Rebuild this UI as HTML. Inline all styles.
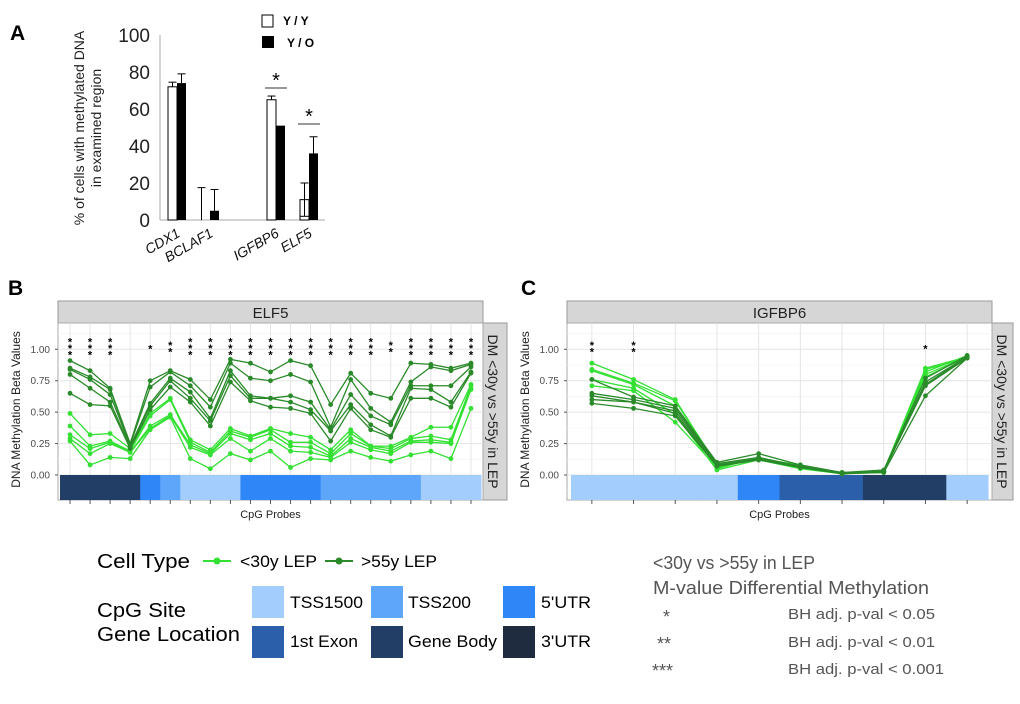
<!DOCTYPE html>
<html><head><meta charset="utf-8"><style>
html,body{margin:0;padding:0;background:#fff}
svg{display:block;font-family:"Liberation Sans",sans-serif}
</style></head><body>
<svg id="fig" width="1020" height="704" viewBox="0 0 1020 704" xmlns="http://www.w3.org/2000/svg">
<g id="panelA"></g>
<g id="panelB"></g>
<g id="panelC"></g>
<g id="legend">
  <text x="97" y="568" font-size="20" textLength="93" lengthAdjust="spacingAndGlyphs">Cell Type</text>
  <line x1="203" y1="561" x2="231" y2="561" stroke="#33e033" stroke-width="2"/>
  <circle cx="217" cy="561" r="3.5" fill="#33e033"/>
  <text x="240" y="567" font-size="17" textLength="77" lengthAdjust="spacingAndGlyphs">&lt;30y LEP</text>
  <line x1="325" y1="561" x2="353" y2="561" stroke="#2a8a2a" stroke-width="2"/>
  <circle cx="339" cy="561" r="3.5" fill="#2a8a2a"/>
  <text x="361" y="567" font-size="17" textLength="76" lengthAdjust="spacingAndGlyphs">&gt;55y LEP</text>
  <text x="97" y="617" font-size="20" textLength="89" lengthAdjust="spacingAndGlyphs">CpG Site</text>
  <text x="97" y="641" font-size="20" textLength="143" lengthAdjust="spacingAndGlyphs">Gene Location</text>
  <rect x="252" y="586" width="32" height="32" fill="#a3cdfd"/>
  <text x="290" y="608" font-size="17" textLength="73" lengthAdjust="spacingAndGlyphs">TSS1500</text>
  <rect x="371" y="586" width="32" height="32" fill="#5ea6f9"/>
  <text x="408" y="608" font-size="17" textLength="63" lengthAdjust="spacingAndGlyphs">TSS200</text>
  <rect x="503" y="586" width="32" height="32" fill="#2e86f7"/>
  <text x="541" y="608" font-size="17" textLength="50" lengthAdjust="spacingAndGlyphs">5'UTR</text>
  <rect x="252" y="626" width="32" height="32" fill="#2b5faa"/>
  <text x="290" y="647" font-size="17" textLength="68" lengthAdjust="spacingAndGlyphs">1st Exon</text>
  <rect x="371" y="626" width="32" height="32" fill="#223d66"/>
  <text x="408" y="647" font-size="17" textLength="89" lengthAdjust="spacingAndGlyphs">Gene Body</text>
  <rect x="503" y="626" width="32" height="32" fill="#1f2b3e"/>
  <text x="541" y="647" font-size="17" textLength="50" lengthAdjust="spacingAndGlyphs">3'UTR</text>
  <g fill="#555" font-size="18">
    <text x="653" y="569" textLength="162" lengthAdjust="spacingAndGlyphs">&lt;30y vs &gt;55y in LEP</text>
    <text x="653" y="594" textLength="276" lengthAdjust="spacingAndGlyphs">M-value Differential Methylation</text>
    <text x="663" y="623">*</text>
    <text x="657" y="650">**</text>
    <text x="652" y="677">***</text>
  </g>
  <g fill="#555" font-size="15">
    <text x="788" y="619" textLength="147" lengthAdjust="spacingAndGlyphs">BH adj. p-val &lt; 0.05</text>
    <text x="788" y="647" textLength="147" lengthAdjust="spacingAndGlyphs">BH adj. p-val &lt; 0.01</text>
    <text x="788" y="674" textLength="156" lengthAdjust="spacingAndGlyphs">BH adj. p-val &lt; 0.001</text>
  </g>
</g>
</svg>
<script>
// ---------- Panel A data ----------
const aGenes = ["CDX1","BCLAF1","","IGFBP6","ELF5"];
const aYY = [72, 0, null, 65, 11];
const aYYerr = [2.5, 17.5, null, 2, 9];
const aYO = [74, 5, null, 51, 36];
const aYOerr = [5, 11.5, null, 0, 9];
const aTicks = [0,20,40,60,80,100];

// ---------- Panel B data (ELF5) ----------
const bRegions = ["GB","GB","GB","GB","U5","T2","T15","T15","T15","U5","U5","U5","U5","T2","T2","T2","T2","T2","T15","T15","T15"];
const bStars = [3,3,3,0,1,2,3,3,3,3,3,3,3,3,3,3,2,3,3,3,3];
const bOld = [
 [.91,.83,.69,.25,.75,.83,.76,.60,.92,.89,.82,.91,.87,.56,.81,.65,.61,.89,.88,.85,.89],
 [.85,.78,.68,.24,.70,.82,.71,.54,.89,.77,.75,.80,.74,.38,.76,.53,.42,.74,.86,.83,.88],
 [.84,.76,.64,.23,.57,.77,.66,.45,.83,.63,.61,.63,.58,.36,.64,.47,.40,.71,.71,.71,.86],
 [.80,.69,.58,.22,.55,.75,.61,.43,.79,.61,.61,.58,.52,.35,.56,.40,.31,.69,.68,.58,.82],
 [.65,.56,.55,.21,.52,.70,.58,.39,.74,.59,.54,.53,.49,.27,.53,.36,.30,.61,.61,.54,.81]
];
const bYoung = [
 [.49,.32,.33,.21,.49,.61,.28,.20,.37,.31,.37,.33,.30,.20,.36,.23,.23,.30,.38,.38,.72],
 [.39,.23,.27,.19,.47,.60,.26,.18,.35,.30,.36,.26,.26,.17,.33,.23,.21,.29,.31,.28,.71],
 [.32,.21,.26,.18,.39,.48,.24,.17,.33,.28,.33,.23,.22,.15,.29,.22,.19,.27,.28,.26,.69],
 [.29,.17,.25,.18,.37,.47,.22,.16,.29,.19,.29,.19,.18,.14,.26,.20,.17,.26,.26,.25,.68],
 [.27,.08,.14,.13,.36,.46,.13,.05,.17,.12,.19,.06,.13,.12,.19,.14,.11,.16,.19,.13,.53]
];

// ---------- Panel C data (IGFBP6) ----------
const cRegions = ["T15","T15","T15","T15","U5","EX","EX","GB","GB","T15"];
const cStars = [2,2,0,0,0,0,0,0,1,0];
const cOld = [
 [.76,.62,.55,.10,.17,.08,.02,.04,.77,.95],
 [.65,.60,.53,.09,.14,.07,.01,.03,.74,.94],
 [.63,.58,.51,.08,.13,.07,.01,.03,.72,.94],
 [.60,.58,.49,.07,.12,.06,.01,.03,.71,.93],
 [.57,.53,.47,.07,.12,.06,.01,.02,.63,.93]
];
const cYoung = [
 [.89,.76,.60,.08,.13,.08,.01,.03,.85,.94],
 [.84,.73,.59,.07,.12,.07,.02,.02,.84,.93],
 [.83,.72,.55,.05,.14,.06,.01,.02,.82,.95],
 [.76,.69,.48,.04,.12,.05,.01,.03,.80,.94],
 [.71,.67,.42,.06,.13,.06,.02,.02,.78,.94]
];
const betaTicks = [0,0.25,0.5,0.75,1];
const betaTickLabels = ["0.00","0.25","0.50","0.75","1.00"];

const NS="http://www.w3.org/2000/svg";
function mk(parent, tag, attrs, text){
  const e=document.createElementNS(NS,tag);
  for(const k in attrs) e.setAttribute(k,attrs[k]);
  if(text!==undefined) e.textContent=text;
  parent.appendChild(e); return e;
}
const regionColor={T15:"#a3cdfd",T2:"#5ea6f9",U5:"#2e86f7",EX:"#2b5faa",GB:"#223d66",U3:"#1f2b3e"};

// ---------- Draw Panel A ----------
(function(){
  const g=document.getElementById('panelA');
  const x0=160, xEnd=325, yTop=35, yBot=220;
  const yA=v=>yBot-(v/100)*(yBot-yTop);
  const slotX=i=>177+i*33;
  const bw=9;
  let t=mk(g,'text',{x:10,y:40,'font-size':21,'font-weight':'bold'},'A');
   
  let ax=mk(g,'line',{x1:x0,y1:yTop,x2:x0,y2:yBot,stroke:'#aaa','stroke-width':1});
   
  let bx=mk(g,'line',{x1:x0,y1:yBot,x2:xEnd,y2:yBot,stroke:'#aaa','stroke-width':1});
   
  aTicks.forEach(v=>{
    const tl=mk(g,'text',{x:x0-10,y:yA(v)+7,'font-size':19,'text-anchor':'end',fill:'#222'},String(v));
     
  });
  const yt=mk(g,'text',{transform:'translate(84,128) rotate(-90)','font-size':14,'text-anchor':'middle',fill:'#222'});
   
  mk(yt,'tspan',{x:0,y:0},'% of cells with methylated DNA');
  mk(yt,'tspan',{x:0,y:17},'in examined region');
  aGenes.forEach((name,i)=>{
    if(aYY[i]===null) return;
    const cx=slotX(i);
    const r1=mk(g,'rect',{x:cx-bw,y:yA(aYY[i]),width:bw,height:yBot-yA(aYY[i]),fill:'#fff',stroke:'#000','stroke-width':1});
     
    if(aYYerr[i]>0){
      const ex=cx-bw/2-(aYY[i]===0?4:0);
      mk(g,'line',{x1:ex,y1:yA(aYY[i]),x2:ex,y2:yA(aYY[i]+aYYerr[i]),stroke:'#000'});
      mk(g,'line',{x1:ex-4,y1:yA(aYY[i]+aYYerr[i]),x2:ex+4,y2:yA(aYY[i]+aYYerr[i]),stroke:'#000'});
      if(name==="ELF5"){
        mk(g,'line',{x1:ex,y1:yA(aYY[i]),x2:ex,y2:yA(aYY[i]-aYYerr[i]),stroke:'#000'});
        mk(g,'line',{x1:ex-4,y1:yA(aYY[i]-aYYerr[i]),x2:ex+4,y2:yA(aYY[i]-aYYerr[i]),stroke:'#000'});
      }
    }
    const r2=mk(g,'rect',{x:cx,y:yA(aYO[i]),width:bw,height:yBot-yA(aYO[i]),fill:'#000'});
     
    if(aYOerr[i]>0){
      const ex=cx+bw/2;
      mk(g,'line',{x1:ex,y1:yA(aYO[i]),x2:ex,y2:yA(aYO[i]+aYOerr[i]),stroke:'#000'});
      mk(g,'line',{x1:ex-4,y1:yA(aYO[i]+aYOerr[i]),x2:ex+4,y2:yA(aYO[i]+aYOerr[i]),stroke:'#000'});
    }
    const lbl=mk(g,'text',{transform:`translate(${cx+4},${yBot+16}) rotate(-30)`,'font-size':14,'font-style':'italic','text-anchor':'end',fill:'#111'},name);
     
  });
  [[3,88],[4,124]].forEach(([i,y])=>{
    const cx=slotX(i);
    mk(g,'line',{x1:cx-11,y1:y,x2:cx+11,y2:y,stroke:'#333','stroke-width':1});
    const s=mk(g,'text',{x:cx,y:y-1,'font-size':20,'text-anchor':'middle'},'*');
     
  });
  const l1=mk(g,'rect',{x:262,y:15,width:11,height:12,fill:'#fff',stroke:'#000'});
   
  const t1=mk(g,'text',{x:283,y:25,'font-size':12,'font-weight':'bold'},'Y / Y');
   
  const l2=mk(g,'rect',{x:262,y:36,width:12,height:12,fill:'#000'});
   
  const t2=mk(g,'text',{x:287,y:47,'font-size':12,'font-weight':'bold'},'Y / O');
   
})();

// ---------- Line panels ----------
function drawPanel(gid, letter, letterX, gene, L, R, stripR, regions, stars, old, young, barL, barR){
  const g=document.getElementById(gid);
  const top=323, bottom=500, y1=349.3, y0=475;
  const yS=v=>y0-v*(y0-y1);
  const n=regions.length;
  const step=(barR-barL)/n;
  const xS=i=>barL+step*(i+0.5);
  let t=mk(g,'text',{x:letterX,y:295,'font-size':21,'font-weight':'bold'},letter);
   
  const strip=mk(g,'rect',{x:L,y:301,width:R-L,height:22,fill:'#d6d6d6',stroke:'#999'});
   
  const st=mk(g,'text',{x:(L+R)/2,y:318,'font-size':15,'text-anchor':'middle',fill:'#222'},gene);
   
  const rs=mk(g,'rect',{x:R,y:top,width:stripR-R,height:bottom-top,fill:'#d6d6d6',stroke:'#999'});
   
  const rst=mk(g,'text',{transform:`translate(${R+5},${(top+bottom)/2}) rotate(90)`,'font-size':14,'text-anchor':'middle',fill:'#222'},'DM <30y vs >55y in LEP');
   
  const bg=mk(g,'rect',{x:L,y:top,width:R-L,height:bottom-top,fill:'#fff',stroke:'#aaa'});
   
  for(let v=-0.125; v<=1.2; v+=0.125){
    const major=Math.abs((v/0.25)-Math.round(v/0.25))<1e-6;
    mk(g,'line',{x1:L,y1:yS(v),x2:R,y2:yS(v),stroke:major?'#e4e4e4':'#f2f2f2','stroke-width':major?1:0.6});
  }
  for(let i=0;i<n;i++) mk(g,'line',{x1:xS(i),y1:top,x2:xS(i),y2:bottom,stroke:'#e4e4e4'});
  betaTicks.forEach((v,k)=>{
    const tl=mk(g,'text',{x:L-8,y:yS(v)+3.5,'font-size':10,'text-anchor':'end',fill:'#4d4d4d'},betaTickLabels[k]);
     
    mk(g,'line',{x1:L-3,y1:yS(v),x2:L,y2:yS(v),stroke:'#555'});
  });
  const yt=mk(g,'text',{transform:`translate(${L-38},${(top+bottom)/2-2}) rotate(-90)`,'font-size':12,'text-anchor':'middle',fill:'#222'},'DNA Methylation Beta Values');
   
  regions.forEach((r,i)=>{
    const rc=mk(g,'rect',{x:barL+step*i,y:y0,width:step+0.5,height:bottom-y0,fill:regionColor[r]});
     
  });
  for(let i=0;i<n;i++) mk(g,'line',{x1:xS(i),y1:bottom,x2:xS(i),y2:bottom+4,stroke:'#555'});
  const xt=mk(g,'text',{x:(L+R)/2,y:518,'font-size':11,'text-anchor':'middle',fill:'#222'},'CpG Probes');
   
  const drawSeries=(arr,color,nm)=>{
    arr.forEach(s=>{
      const pl=mk(g,'polyline',{points:s.map((v,i)=>xS(i)+','+yS(v)).join(' '),fill:'none',stroke:color,'stroke-width':1.3});
       
      s.forEach((v,i)=>{
        const c=mk(g,'circle',{cx:xS(i),cy:yS(v),r:2.4,fill:color});
         
      });
    });
  };
  drawSeries(young,'#33e033','young-lep');
  drawSeries(old,'#2a8a2a','old-lep');
  stars.forEach((k,i)=>{
    for(let j=0;j<k;j++){
      const s=mk(g,'text',{x:xS(i),y:yS(1)+6-j*6.5+(k-1)*3.2-3,'font-size':11,'text-anchor':'middle','font-weight':'bold'},'*');
       
    }
  });
}
drawPanel('panelB','B',8,'ELF5',58,483,507,bRegions,bStars,bOld,bYoung,60,481);
drawPanel('panelC','C',521,'IGFBP6',567,992,1013,cRegions,cStars,cOld,cYoung,571,988);
</script>
</body></html>
